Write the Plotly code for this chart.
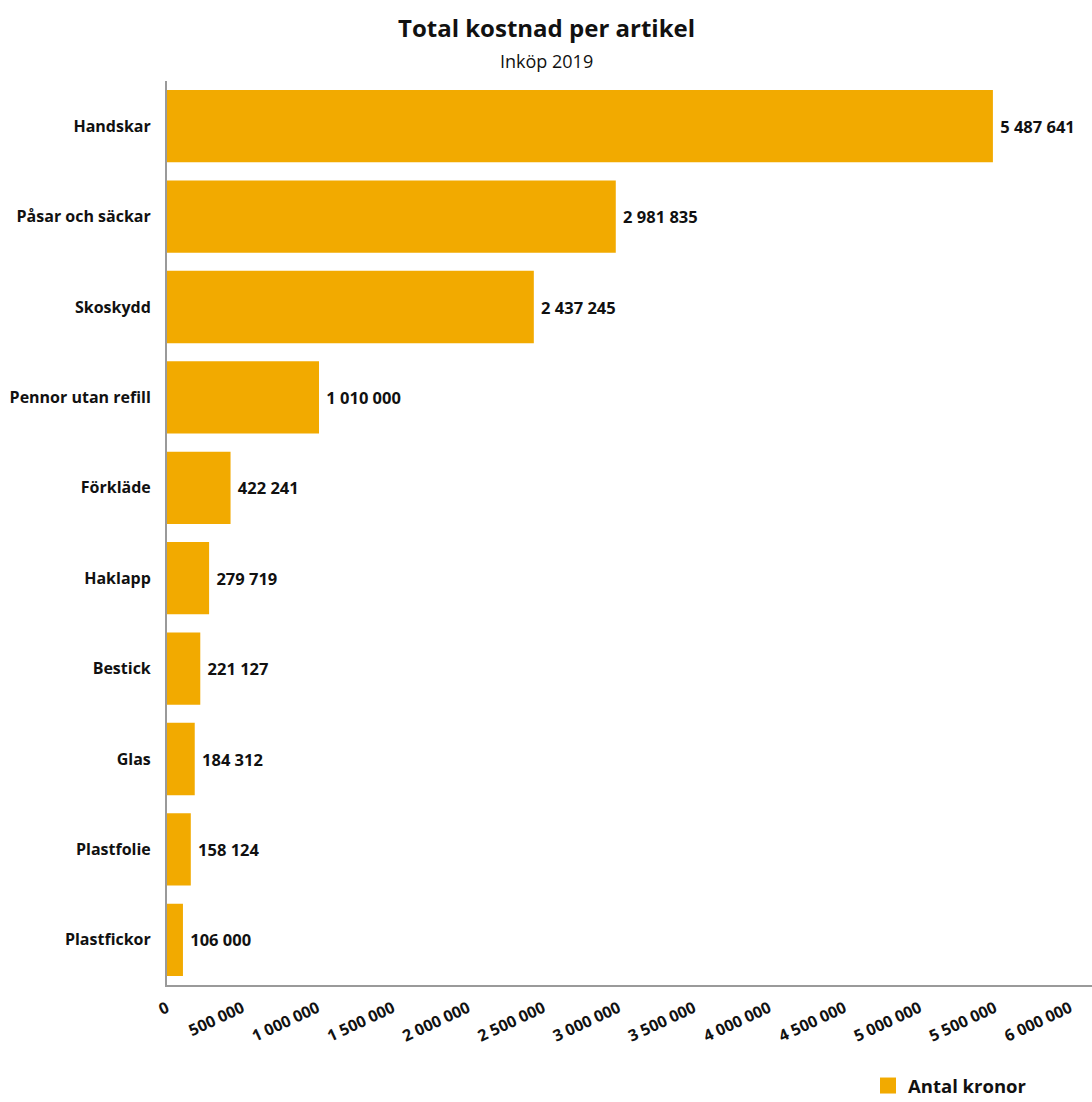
import plotly.graph_objects as go

categories = ["Handskar", "Påsar och säckar", "Skoskydd", "Pennor utan refill", "Förkläde",
              "Haklapp", "Bestick", "Glas", "Plastfolie", "Plastfickor"]
values = [5487641, 2981835, 2437245, 1010000, 422241, 279719, 221127, 184312, 158124, 106000]
series_name = "Antal kronor"
tick_vals = [0, 500000, 1000000, 1500000, 2000000, 2500000, 3000000, 3500000,
             4000000, 4500000, 5000000, 5500000, 6000000]
title_text = "Total kostnad per artikel"
subtitle_text = "Inköp 2019"

FONT = "Open Sans"
BAR = "#F2AA00"
W, H = 1092, 1102
ML, MR, MT, MB = 167, 0, 81, 117
plot_w = W - ML - MR
plot_h = H - MT - MB

fig = go.Figure()
fig.add_trace(go.Bar(
    y=categories, x=values, orientation="h", name=series_name, showlegend=False,
    marker=dict(color=BAR, line=dict(width=0)),
    text=values, texttemplate="\u00a0%{x:,d}", textposition="outside",
    textfont=dict(family=FONT, size=16.5, color="#111", weight="bold"),
    cliponaxis=False, width=0.8,
))
# legend entry
fig.add_trace(go.Scatter(
    x=[None], y=[None], mode="markers", name=series_name, showlegend=True,
    marker=dict(symbol="square", size=20, color=BAR),
))

title_x = (W / 2 - ML) / plot_w
fig.update_layout(
    width=W, height=H,
    margin=dict(l=ML, r=MR, t=MT, b=MB, autoexpand=False),
    paper_bgcolor="white", plot_bgcolor="white",
    separators=", ",
    showlegend=True,
    legend=dict(orientation="h", x=(868 - ML) / plot_w, xanchor="left",
                y=-(1086 - (H - MB)) / plot_h, yanchor="middle",
                itemsizing="trace",
                font=dict(family=FONT, size=18.5, color="#111", weight="bold")),
    bargap=0.2,
    annotations=[
        dict(text="<b>" + title_text + "</b>", x=title_x, xref="paper", xanchor="center",
             y=1 + (MT - 28) / plot_h, yref="paper", yanchor="middle", showarrow=False,
             font=dict(family=FONT, size=24, color="#111")),
        dict(text=subtitle_text, x=title_x, xref="paper", xanchor="center",
             y=1 + (MT - 61) / plot_h, yref="paper", yanchor="middle", showarrow=False,
             font=dict(family=FONT, size=18, color="#111")),
    ],
)

fig.update_xaxes(range=[0, 6146000], tickvals=tick_vals, tickformat=",d", tickangle=-25,
                 showgrid=False, zeroline=False, showline=True, linecolor="#9a9a9a", linewidth=2,
                 ticks="", tickfont=dict(family=FONT, size=16, color="#111", weight="bold"),
                 ticklabelstandoff=6, automargin=False)
fig.update_yaxes(autorange="reversed", showgrid=False, zeroline=False, showline=True,
                 linecolor="#9a9a9a", linewidth=2, ticks="",
                 tickfont=dict(family=FONT, size=16, color="#111", weight="bold"),
                 ticklabelstandoff=11, automargin=False)

fig.write_html("out.html", config={"displayModeBar": False},
               post_script="document.body.style.margin='0';")
